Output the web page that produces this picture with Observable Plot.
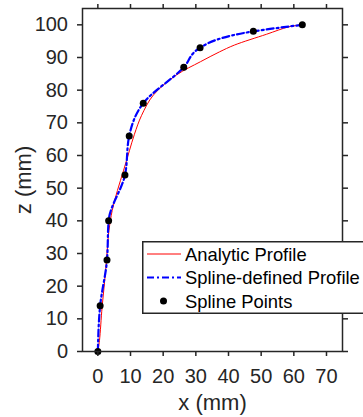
<!DOCTYPE html>
<html>
<head>
<meta charset="utf-8">
<script src="https://cdn.jsdelivr.net/npm/d3@7"></script>
<script src="https://cdn.jsdelivr.net/npm/@observablehq/plot@0.6"></script>
<style>
  html, body { margin: 0; padding: 0; background: white; }
  #wrap { position: relative; width: 363px; height: 417px; overflow: hidden; }
  #legend { position: absolute; left: 0; top: 0; }
</style>
</head>
<body>
<div id="wrap"></div>
<script>
// Spline points (x, z in mm)
const splineX = [0, 0.7, 2.8, 3.3, 8.3, 9.6, 13.9, 26.3, 31.3, 47.6, 62.6];
const splineZ = [0, 14, 28, 40, 54, 66, 76, 87, 93, 98, 100];

// Analytic profile
const analyticZ = [0, 3.4, 13.6, 23.8, 34, 37.1, 43.2, 49.3, 55.5, 61.6, 66.5, 72.3, 78.5, 84.6, 88.7, 91.7, 93.8, 97.1, 99.4, 100];
const analyticX = [0, 0.5, 1.3, 2.3, 3.1, 3.4, 4.4, 6.0, 7.9, 9.7, 11.2, 13.4, 17.0, 24.0, 31.4, 37.2, 41.8, 51.6, 58.5, 62.6];

// Tick values
const xTicks = [0, 10, 20, 30, 40, 50, 60, 70];
const yTicks = [0, 10, 20, 30, 40, 50, 60, 70, 80, 90, 100];

// Legend entries
const legendLabels = ["Analytic Profile", "Spline-defined Profile", "Spline Points"];

const spline = splineX.map((x, i) => ({x, z: splineZ[i]}));
const analytic = analyticX.map((x, i) => ({x, z: analyticZ[i]}));

const ink = "#262626";
const chart = Plot.plot({
  width: 363,
  height: 417,
  marginLeft: 82,
  marginRight: 21,
  marginTop: 8,
  marginBottom: 66,
  x: {domain: [-4.7, 74.9]},
  y: {domain: [0, 105]},
  style: {fontFamily: "'Liberation Sans', Arial, Helvetica, sans-serif", fontSize: "20px", color: ink, background: "white", overflow: "visible"},
  marks: [
    Plot.line(analytic, {x: "x", y: "z", stroke: "#ff0000", strokeWidth: 1, curve: "catmull-rom"}),
    Plot.line(spline, {x: "x", y: "z", stroke: "#0000ff", strokeWidth: 2.2, strokeDasharray: "7,3,2,3", curve: "monotone-y"}),
    Plot.dot(spline, {x: "x", y: "z", r: 3.5, fill: "black", stroke: null}),
    Plot.frame({stroke: ink, strokeWidth: 1.5}),
    Plot.axisX(xTicks, {anchor: "bottom", tickSize: 5, tickPadding: 12, strokeWidth: 1.5, label: null}),
    Plot.axisX(xTicks, {anchor: "top", tickSize: 5, strokeWidth: 1.5, tickFormat: () => "", label: null}),
    Plot.axisY(yTicks, {anchor: "left", tickSize: 5, tickPadding: 9.5, strokeWidth: 1.5, label: null}),
    Plot.axisY(yTicks, {anchor: "right", tickSize: 5, strokeWidth: 1.5, tickFormat: () => "", label: null}),
    Plot.text(["x (mm)"], {frameAnchor: "bottom", lineAnchor: "middle", textAnchor: "middle", dy: 51, fontSize: 22, fill: ink}),
    Plot.text(["z (mm)"], {frameAnchor: "left", lineAnchor: "middle", textAnchor: "middle", dx: -59, rotate: -90, fontSize: 22, fill: ink})
  ]
});
document.getElementById("wrap").appendChild(chart);

// Legend overlay (inside the axes, lower right)
const lg = d3.select("#wrap").append("svg")
  .attr("id", "legend").attr("width", 363).attr("height", 417);
lg.append("rect").attr("x", 142.75).attr("y", 241.75).attr("width", 240).attr("height", 71.5)
  .attr("fill", "white").attr("stroke", ink).attr("stroke-width", 1.5);
const rowY = [254, 277.5, 301];
lg.append("line").attr("x1", 147).attr("x2", 181).attr("y1", rowY[0]).attr("y2", rowY[0])
  .attr("stroke", "#ff0000").attr("stroke-width", 1);
lg.append("line").attr("x1", 147).attr("x2", 181).attr("y1", rowY[1]).attr("y2", rowY[1])
  .attr("stroke", "#0000ff").attr("stroke-width", 2.2).attr("stroke-dasharray", "7,3,2,3");
lg.append("circle").attr("cx", 163.5).attr("cy", rowY[2]).attr("r", 3.5).attr("fill", "black");
legendLabels.forEach((t, i) => {
  lg.append("text").attr("x", 185).attr("y", rowY[i] + 6.5)
    .attr("font-family", "'Liberation Sans', Arial, Helvetica, sans-serif")
    .attr("font-size", 18.4).attr("fill", "black").text(t);
});
</script>
</body>
</html>
